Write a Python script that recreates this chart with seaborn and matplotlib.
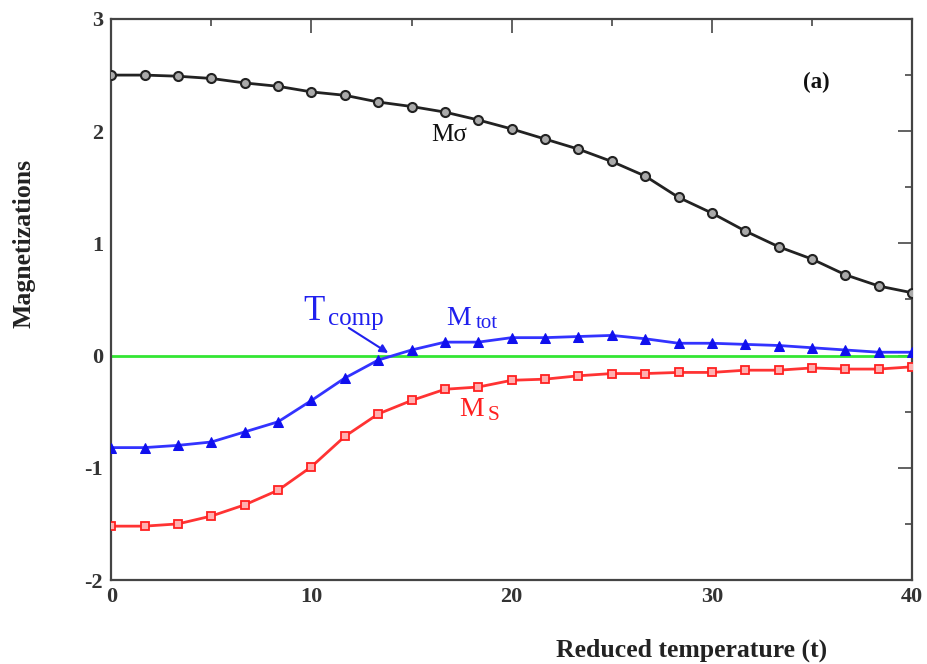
import numpy as np
import pandas as pd
import matplotlib
matplotlib.use("Agg")
import matplotlib.pyplot as plt
import seaborn as sns

# t values (25 points from 0 to 40)
t = [0.0, 1.667, 3.333, 5.0, 6.667, 8.333, 10.0, 11.667, 13.333, 15.0,
     16.667, 18.333, 20.0, 21.667, 23.333, 25.0, 26.667, 28.333, 30.0,
     31.667, 33.333, 35.0, 36.667, 38.333, 40.0]

m_sigma = [2.50, 2.50, 2.49, 2.47, 2.43, 2.40, 2.35, 2.32, 2.26, 2.22,
           2.17, 2.10, 2.02, 1.93, 1.84, 1.73, 1.60, 1.41, 1.27, 1.11,
           0.97, 0.86, 0.72, 0.62, 0.56]

m_tot = [-0.82, -0.82, -0.80, -0.77, -0.68, -0.59, -0.40, -0.20, -0.04, 0.05,
         0.12, 0.12, 0.16, 0.16, 0.17, 0.18, 0.15, 0.11, 0.11, 0.10,
         0.09, 0.07, 0.05, 0.03, 0.03]

m_s = [-1.52, -1.52, -1.50, -1.43, -1.33, -1.20, -0.99, -0.72, -0.52, -0.40,
       -0.30, -0.28, -0.22, -0.21, -0.18, -0.16, -0.16, -0.15, -0.15, -0.13,
       -0.13, -0.11, -0.12, -0.12, -0.10]

zero_line = [0.0] * len(t)

x_ticks = [0, 10, 20, 30, 40]
x_tick_labels = ["0", "10", "20", "30", "40"]
y_ticks = [-2, -1, 0, 1, 2, 3]
y_tick_labels = ["-2", "-1", "0", "1", "2", "3"]

sns.set_style("white")
plt.rcParams['font.family'] = ['Liberation Serif', 'DejaVu Serif']
plt.rcParams['mathtext.fontset'] = 'stix'

fig = plt.figure(figsize=(9.27, 6.64), dpi=100)
ax = fig.add_axes([0.12, 0.1265, 0.864, 0.8449])

df = pd.DataFrame({"t": t, "ms": m_sigma, "mt": m_tot, "mS": m_s, "z": zero_line})

sns.lineplot(data=df, x="t", y="z", ax=ax, color="#33e633", lw=2, zorder=2)
sns.lineplot(data=df, x="t", y="ms", ax=ax, color="#222222", lw=2,
             marker="o", markersize=6.5, markerfacecolor="#aaaaaa",
             markeredgecolor="#222222", markeredgewidth=1.5, zorder=3)
sns.lineplot(data=df, x="t", y="mt", ax=ax, color="#3333ff", lw=2,
             marker="^", markersize=7, markerfacecolor="#1010ee",
             markeredgecolor="#1010ee", zorder=4)
sns.lineplot(data=df, x="t", y="mS", ax=ax, color="#ff3333", lw=2,
             marker="s", markersize=5.5, markerfacecolor="#ffb0b0",
             markeredgecolor="#ff2020", markeredgewidth=1.3, zorder=3)

ax.set_xlim(0, 40)
ax.set_ylim(-2, 3)
ax.set_xticks(x_ticks)
ax.set_xticklabels(x_tick_labels)
ax.set_yticks(y_ticks)
ax.set_yticklabels(y_tick_labels)
ax.set_xticks([5, 15, 25, 35], minor=True)
ax.set_yticks([-1.5, -0.5, 0.5, 1.5, 2.5], minor=True)
ax.tick_params(which="both", direction="in", top=True, right=True,
               colors="#555555", labelcolor="#333333", labelsize=16, width=1.3)
ax.tick_params(which="major", length=10)
ax.tick_params(axis="x", which="major", pad=5)
ax.tick_params(axis="y", which="major", pad=6)
ax.tick_params(which="minor", length=5)
for lab in ax.get_xticklabels() + ax.get_yticklabels():
    lab.set_fontweight("bold")
for s in ax.spines.values():
    s.set_color("#444444")
    s.set_linewidth(1.6)

ax.set_xlabel("Reduced temperature (t)", fontsize=18.5, fontweight="bold",
              color="#222222")
ax.xaxis.set_label_coords(0.725, -0.105)
ax.set_ylabel("Magnetizations", fontsize=18.5, fontweight="bold", color="#222222")
ax.yaxis.set_label_coords(-0.095, 0.60)

ax.text(35.2, 2.43, "(a)", fontsize=16.5, fontweight="bold", color="#111111",
        ha="center", va="center")
ax.text(16.9, 1.97, "M\u03c3", fontsize=18, color="#111111", ha="center", va="center")
ax.text(9.6, 0.39, "T", fontsize=25, color="#2020ee", ha="left", va="center")
ax.text(10.85, 0.33, "comp", fontsize=18, color="#2020ee", ha="left", va="center")
ax.annotate("", xy=(13.95, 0.01), xytext=(11.75, 0.26),
            arrowprops=dict(arrowstyle="-|>", color="#2020ee", lw=1.5,
                            mutation_scale=12))
ax.text(16.75, 0.33, "M", fontsize=20, color="#2020ee", ha="left", va="center")
ax.text(18.2, 0.29, "tot", fontsize=15, color="#2020ee", ha="left", va="center")
ax.text(17.4, -0.48, "M", fontsize=20, color="#ff2020", ha="left", va="center")
ax.text(18.8, -0.53, "S", fontsize=15.5, color="#ff2020", ha="left", va="center")

fig.savefig("out.png", dpi=100)
